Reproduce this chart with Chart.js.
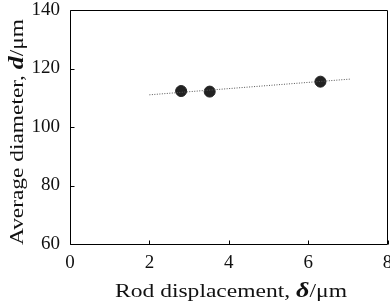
<!DOCTYPE html>
<html>
<head>
<meta charset="utf-8">
<script src="https://cdn.jsdelivr.net/npm/chart.js@4"></script>
<style>
  body { margin: 0; background: #fff; }
  #wrap { width: 390px; height: 302px; }
</style>
</head>
<body>
<div id="wrap"><canvas id="chart"></canvas></div>
<script>
// measured points
let rodDisp = [2.8, 3.52, 6.31];
let avgDiam = [112.3, 112.1, 115.5];
// dotted linear fit
let fitX = [2.0, 7.08];
let fitY = [111.0, 116.4];

let xTicks = [0, 2, 4, 6, 8];
let yTicks = [60, 80, 100, 120, 140];

let serif = "'Liberation Serif', 'Times New Roman', serif";

// frame + inward tick marks + axis titles
let framePlugin = {
  id: "frame",
  afterDraw(chart) {
    let ctx = chart.ctx;
    let a = chart.chartArea;
    let xs = chart.scales.x, ys = chart.scales.y;
    let L = Math.round(a.left) + 0.5, R = Math.round(a.right) - 0.5;
    let T = Math.round(a.top) + 0.5, B = Math.round(a.bottom) + 0.5;
    ctx.save();
    ctx.setLineDash([]);
    ctx.strokeStyle = "#000";
    ctx.lineWidth = 1;
    ctx.beginPath();
    ctx.moveTo(L, T); ctx.lineTo(R, T);
    ctx.lineTo(R, B);
    ctx.lineTo(L, B);
    ctx.lineTo(L, T);
    xTicks.forEach(v => {
      let px = Math.round(xs.getPixelForValue(v)) + 0.5;
      ctx.moveTo(px, B);
      ctx.lineTo(px, B - 4);
    });
    yTicks.forEach(v => {
      let py = Math.round(ys.getPixelForValue(v)) + 0.5;
      ctx.moveTo(L, py);
      ctx.lineTo(L + 4, py);
    });
    ctx.stroke();

    // titles are a bit wider than plain Liberation Serif, so stretch them
    function drawParts(parts, cx, cy, target) {
      let total = 0;
      parts.forEach(p => { ctx.font = p[1]; total += ctx.measureText(p[0]).width; });
      let k = target / total;
      ctx.save();
      ctx.translate(cx - target / 2, cy);
      ctx.scale(k, 1);
      let x = 0;
      parts.forEach(p => {
        ctx.font = p[1];
        ctx.fillText(p[0], x, 0);
        x += ctx.measureText(p[0]).width;
      });
      ctx.restore();
    }
    ctx.fillStyle = "#111";
    ctx.textBaseline = "alphabetic";
    let norm = "18px " + serif;
    let bi = "italic bold 20px " + serif;
    drawParts([["Rod displacement, ", norm], ["δ", bi], ["/μm", norm]], 231, 297, 232);
    ctx.translate(23, 132);
    ctx.rotate(-Math.PI / 2);
    drawParts([["Average diameter, ", norm], ["d", bi], ["/μm", norm]], 0, 0, 226);
    ctx.restore();
  }
};

new Chart(document.getElementById("chart"), {
  type: "scatter",
  data: {
    datasets: [
      {
        label: "fit",
        data: fitX.map((x, i) => ({ x: x, y: fitY[i] })),
        showLine: true,
        borderColor: "#555",
        borderWidth: 1,
        borderDash: [1, 1.5],
        pointRadius: 0,
        fill: false
      },
      {
        label: "measured",
        data: rodDisp.map((x, i) => ({ x: x, y: avgDiam[i] })),
        backgroundColor: "#222",
        borderColor: "#222",
        pointRadius: 5.5,
        pointHoverRadius: 5.5
      }
    ]
  },
  plugins: [framePlugin],
  options: {
    responsive: true,
    maintainAspectRatio: false,
    animation: false,
    layout: { autoPadding: false, padding: { top: 10, right: 2.5, left: 0, bottom: 0 } },
    plugins: {
      legend: { display: false },
      tooltip: { enabled: false }
    },
    scales: {
      x: {
        type: "linear",
        min: 0, max: 8,
        afterBuildTicks: s => { s.ticks = xTicks.map(v => ({ value: v })); },
        afterFit: s => { s.height = 58; s.paddingLeft = 0; s.paddingRight = 0; },
        grid: { display: false, drawTicks: false },
        border: { display: false },
        ticks: { color: "#111", padding: 8, maxRotation: 0, font: { family: serif, size: 19 } }
      },
      y: {
        min: 60, max: 140,
        afterBuildTicks: s => { s.ticks = yTicks.map(v => ({ value: v })); },
        afterFit: s => { s.width = 70; s.paddingTop = 0; s.paddingBottom = 0; },
        grid: { display: false, drawTicks: false },
        border: { display: false },
        ticks: { color: "#111", padding: 10, font: { family: serif, size: 19 } }
      }
    }
  }
});
</script>
</body>
</html>
